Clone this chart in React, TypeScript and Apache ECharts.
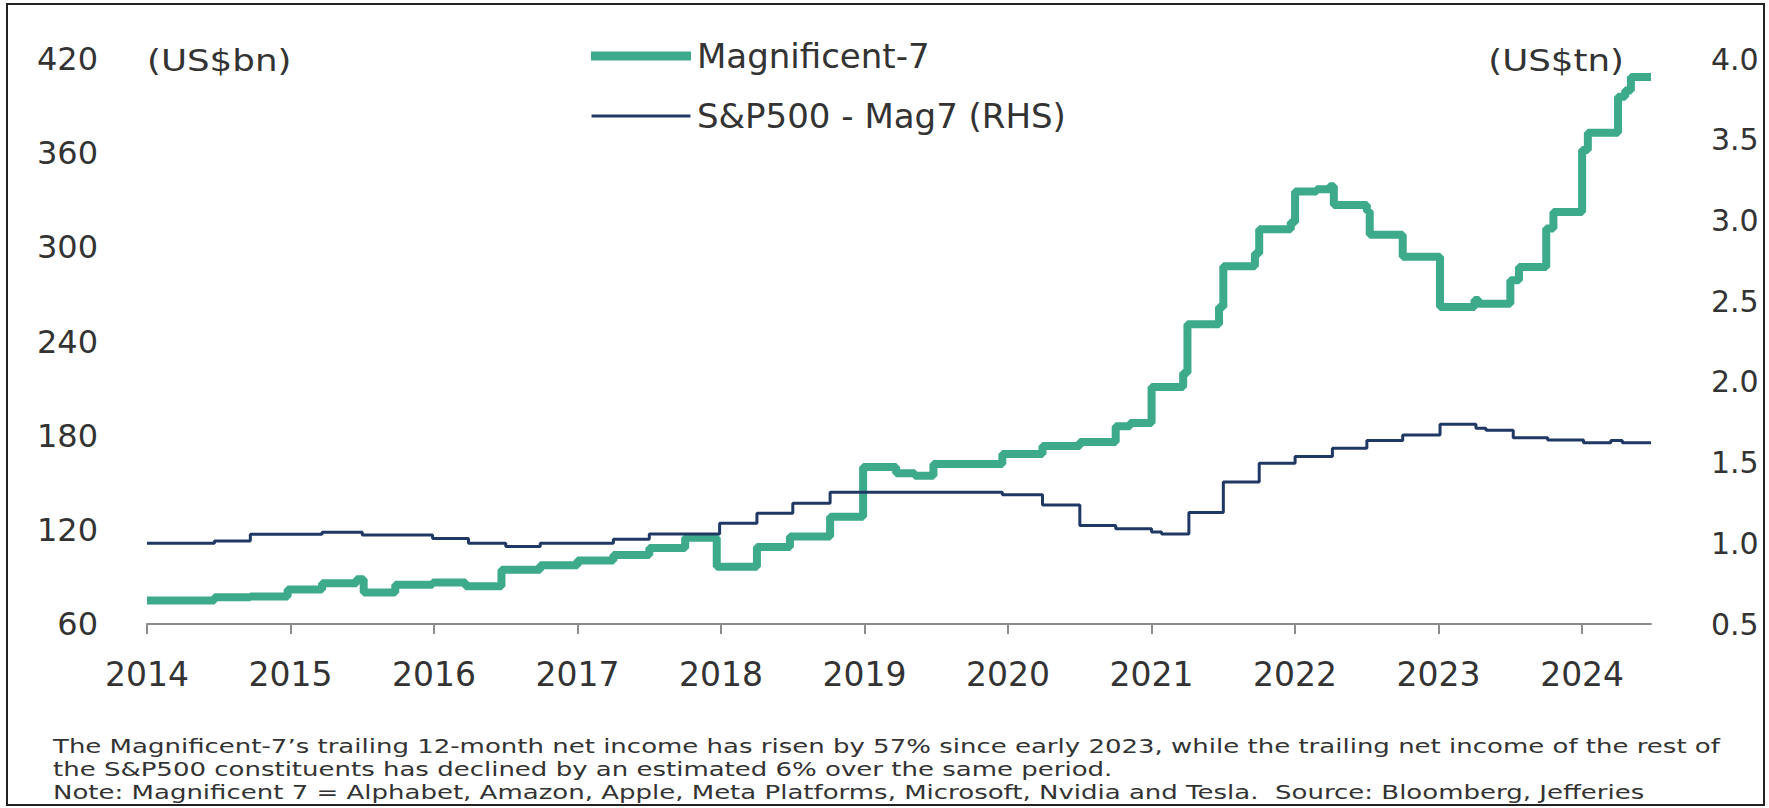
import React, { useEffect, useRef } from "react";
import * as echarts from "echarts";

// ---- Data ----
const yearTicks = [2014, 2015, 2016, 2017, 2018, 2019, 2020, 2021, 2022, 2023, 2024];

// Magnificent-7 trailing 12m net income (US$bn), step changes [year]
const magYears = [
  2014.0, 2014.47, 2014.72, 2014.98, 2015.22, 2015.46, 2015.51, 2015.73, 2015.99, 2016.22,
  2016.47, 2016.74, 2017.0, 2017.25, 2017.5, 2017.75, 2017.97, 2018.25, 2018.48, 2018.76,
  2018.99, 2019.22, 2019.35, 2019.48, 2019.96, 2020.24, 2020.5, 2020.75, 2020.85, 2021.0,
  2021.22, 2021.25, 2021.47, 2021.5, 2021.72, 2021.75, 2021.97, 2022.0, 2022.15, 2022.24,
  2022.27, 2022.5, 2022.52, 2022.75, 2023.01, 2023.25, 2023.28, 2023.5, 2023.56, 2023.75,
  2023.8, 2024.0, 2024.04, 2024.25, 2024.3, 2024.34, 2024.48,
];
const magValues = [
  75, 77, 77.5, 82, 86, 88.5, 80, 85, 86.5, 84,
  94.5, 97.5, 100.5, 104, 108.5, 115, 96.5, 109, 115.7, 128.4,
  160, 156, 154.5, 162, 168.3, 173.4, 176, 186, 188, 211,
  220, 251, 262, 288, 296, 311.5, 316, 335.5, 337, 339,
  327, 323, 308, 294, 262, 266.5, 264, 279, 287.5, 312,
  322.5, 362, 373, 396, 400, 408.6, 408.6,
];

// S&P500 excluding Mag-7 trailing net income (US$tn, RHS)
const restYears = [
  2014.0, 2014.47, 2014.72, 2015.22, 2015.5, 2015.99, 2016.24, 2016.5, 2016.74, 2017.25,
  2017.5, 2017.99, 2018.25, 2018.5, 2018.76, 2019.96, 2020.24, 2020.5, 2020.75, 2021.0,
  2021.07, 2021.26, 2021.5, 2021.75, 2022.0, 2022.26, 2022.5, 2022.75, 2023.01, 2023.26,
  2023.33, 2023.52, 2023.76, 2024.01, 2024.2, 2024.28, 2024.48,
];
const restValues = [
  1.0, 1.014, 1.056, 1.068, 1.051, 1.03, 1.0, 0.98, 1.0, 1.025,
  1.058, 1.124, 1.186, 1.248, 1.316, 1.3, 1.237, 1.11, 1.09, 1.07,
  1.058, 1.19, 1.38, 1.496, 1.537, 1.588, 1.636, 1.671, 1.737, 1.712,
  1.7, 1.654, 1.64, 1.623, 1.636, 1.623, 1.623,
];

const footnoteLines = [
  "The Magnificent-7\u2019s trailing 12-month net income has risen by 57% since early 2023, while the trailing net income of the rest of",
  "the S&P500 constituents has declined by an estimated 6% over the same period.",
  "Note: Magnificent 7 = Alphabet, Amazon, Apple, Meta Platforms, Microsoft, Nvidia and Tesla.  Source: Bloomberg, Jefferies",
];

const GREEN = "#3DAA8B";
const NAVY = "#1F3864";
const FONT = "DejaVu Sans";

export default function App() {
  const ref = useRef<HTMLDivElement>(null);

  useEffect(() => {
    if (!ref.current) return;
    const chart = echarts.init(ref.current, null, { renderer: "svg" });

    const magData = magYears.map((x, i) => [x, magValues[i]]);
    const restData = restYears.map((x, i) => [x, restValues[i]]);

    chart.setOption({
      animation: false,
      backgroundColor: "#ffffff",
      grid: { left: 147, right: 118, top: 59, bottom: 184 },
      legend: {
        orient: "vertical",
        left: 586,
        top: 33,
        itemWidth: 102,
        itemHeight: 9,
        itemGap: 24,
        textStyle: { fontFamily: FONT, fontSize: 34, color: "#333", lineHeight: 36 },
        data: [
          {
            name: "Magnificent-7",
            icon: "path://M0,0H100V9H0Z",
            itemStyle: { color: GREEN, borderWidth: 0 },
          },
          {
            name: "S&P500 - Mag7 (RHS)",
            icon: "path://M0,0H0.1V0.1H0Z M0,3H100V6H0Z M0,9H0.1V9.1H0Z",
            itemStyle: { color: NAVY, borderWidth: 0 },
          },
        ],
      },
      xAxis: {
        type: "value",
        min: 2014,
        max: 2024.48,
        interval: 1,
        axisLine: { show: true, lineStyle: { color: "#8c8c8c", width: 2 } },
        axisTick: {
          show: true,
          length: 10,
          lineStyle: { color: "#8c8c8c", width: 2 },
          customValues: yearTicks,
        },
        axisLabel: {
          customValues: yearTicks,
          formatter: (v: number) => String(Math.round(v)),
          fontFamily: FONT,
          fontSize: 33,
          color: "#333",
          margin: 34,
        },
        splitLine: { show: false },
      },
      yAxis: [
        {
          type: "value",
          min: 60,
          max: 420,
          interval: 60,
          position: "left",
          axisLine: { show: false },
          axisTick: { show: false },
          splitLine: { show: false },
          axisLabel: { fontFamily: FONT, fontSize: 32, color: "#333", margin: 49 },
        },
        {
          type: "value",
          min: 0.5,
          max: 4.0,
          interval: 0.5,
          position: "right",
          axisLine: { show: false },
          axisTick: { show: false },
          splitLine: { show: false },
          axisLabel: {
            fontFamily: FONT,
            fontSize: 30,
            color: "#333",
            margin: 60,
            formatter: (v: number) => v.toFixed(1),
          },
        },
      ],
      series: [
        {
          name: "Magnificent-7",
          type: "line",
          step: "end",
          yAxisIndex: 0,
          data: magData,
          symbol: "none",
          color: GREEN,
          lineStyle: { color: GREEN, width: 8 },
          z: 2,
        },
        {
          name: "S&P500 - Mag7 (RHS)",
          type: "line",
          step: "end",
          yAxisIndex: 1,
          data: restData,
          symbol: "none",
          color: NAVY,
          lineStyle: { color: NAVY, width: 3 },
          z: 3,
        },
      ],
      graphic: [
        {
          type: "rect",
          shape: { x: 7, y: 4, width: 1757, height: 801 },
          style: { fill: "none", stroke: "#222", lineWidth: 2 },
          silent: true,
        },
        {
          type: "text",
          x: 147,
          y: 60,
          scaleX: 1.15,
          style: {
            text: "(US$bn)",
            font: `31px "${FONT}"`,
            fill: "#333",
            textAlign: "left",
            textVerticalAlign: "middle",
          },
        },
        {
          type: "text",
          x: 1624,
          y: 60,
          scaleX: 1.15,
          style: {
            text: "(US$tn)",
            font: `31px "${FONT}"`,
            fill: "#333",
            textAlign: "right",
            textVerticalAlign: "middle",
          },
        },
        ...footnoteLines.map((t, i) => ({
          type: "text",
          x: 53,
          y: 746 + i * 23,
          scaleX: 1.3,
          style: {
            text: t,
            font: `20px "${FONT}"`,
            fill: "#333",
            textAlign: "left",
            textVerticalAlign: "middle",
          },
        })),
      ],
    });

    return () => chart.dispose();
  }, []);

  return (
    <div
      ref={ref}
      style={{ position: "fixed", left: 0, top: 0, width: 1769, height: 808, background: "#fff" }}
    />
  );
}
